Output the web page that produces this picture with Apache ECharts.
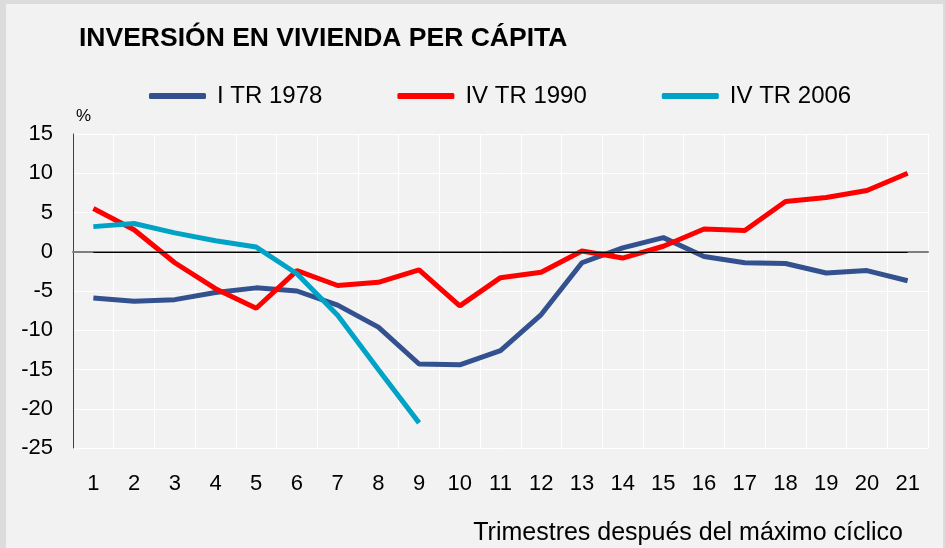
<!DOCTYPE html>
<html>
<head>
<meta charset="utf-8">
<script src="https://cdn.jsdelivr.net/npm/echarts@6/dist/echarts.min.js"></script>
<style>
  html, body { margin: 0; padding: 0; background: #dcdcdc; }
  #chart {
    position: absolute; left: 6px; top: 4px;
    width: 937px; height: 544px; background: #f2f2f2;
  }
</style>
</head>
<body>
<div id="chart"></div>
<script>
// trimestres despues del maximo ciclico
var quarters = ['1','2','3','4','5','6','7','8','9','10','11','12','13','14','15','16','17','18','19','20','21'];

var tr1978 = [-5.9, -6.3, -6.1, -5.2, -4.6, -5.0, -6.8, -9.6, -14.3, -14.4, -12.6, -8.0, -1.4, 0.5, 1.8, -0.6, -1.4, -1.5, -2.7, -2.4, -3.7];
var tr1990 = [5.5, 2.8, -1.4, -4.7, -7.2, -2.4, -4.3, -3.9, -2.3, -6.9, -3.3, -2.6, 0.1, -0.8, 0.7, 2.9, 2.7, 6.4, 6.9, 7.8, 10.0];
var tr2006 = [3.2, 3.6, 2.4, 1.4, 0.6, -2.8, -8.1, -15.0, -21.8];

var seriesNames = ['I TR 1978', 'IV TR 1990', 'IV TR 2006'];
var colors = ['#33518f', '#ff0000', '#00a3c6'];

var font = '"Liberation Sans", Arial, sans-serif';
var chart = echarts.init(document.getElementById('chart'));

var option = {
  animation: false,
  color: colors,
  textStyle: { fontFamily: font, color: '#000' },
  title: {
    text: 'INVERSIÓN EN VIVIENDA PER CÁPITA',
    left: 68, top: 16,
    textStyle: { fontSize: 26.5, fontWeight: 'bold', color: '#000', fontFamily: font }
  },
  legend: {
    left: 138, top: 75,
    icon: 'roundRect',
    itemWidth: 57, itemHeight: 6,
    itemGap: 75,
    textStyle: { fontSize: 24, color: '#000', fontFamily: font, padding: [0, 0, 0, 6] },
    data: seriesNames
  },
  grid: { left: 67, right: 15, top: 130, bottom: 100, containLabel: false },
  xAxis: {
    type: 'category',
    data: quarters,
    boundaryGap: true,
    axisLine: { lineStyle: { color: '#7f7f7f', width: 2 } },
    axisTick: { show: false },
    splitLine: { show: true, lineStyle: { color: '#ffffff', width: 1 } },
    axisLabel: { fontSize: 22, color: '#000', margin: 25, interval: 0 }
  },
  yAxis: {
    type: 'value',
    min: -25, max: 15, interval: 5,
    axisLine: { show: true, lineStyle: { color: '#404040', width: 1 } },
    axisTick: { show: false },
    splitLine: { lineStyle: { color: '#ffffff', width: 1 } },
    axisLabel: { fontSize: 22, color: '#000', margin: 20 }
  },
  graphic: [
    { type: 'text', left: 70, top: 104, style: { text: '%', fill: '#000', font: '17px ' + font } },
    { type: 'text', right: 40, top: 517, style: { text: 'Trimestres después del máximo cíclico', fill: '#000', font: '25px ' + font } }
  ],
  series: [
    {
      name: seriesNames[0], type: 'line', data: tr1978,
      symbol: 'none', lineStyle: { width: 5 }, z: 3,
      markLine: {
        silent: true, symbol: 'none', label: { show: false },
        lineStyle: { color: '#000', width: 1, type: 'solid' },
        data: [[{ coord: [quarters[0], 0] }, { coord: [quarters[quarters.length - 1], 0] }]]
      }
    },
    { name: seriesNames[1], type: 'line', data: tr1990, symbol: 'none', lineStyle: { width: 5 }, z: 4 },
    { name: seriesNames[2], type: 'line', data: tr2006, symbol: 'none', lineStyle: { width: 5 }, z: 5 }
  ]
};

chart.setOption(option);
</script>
</body>
</html>
